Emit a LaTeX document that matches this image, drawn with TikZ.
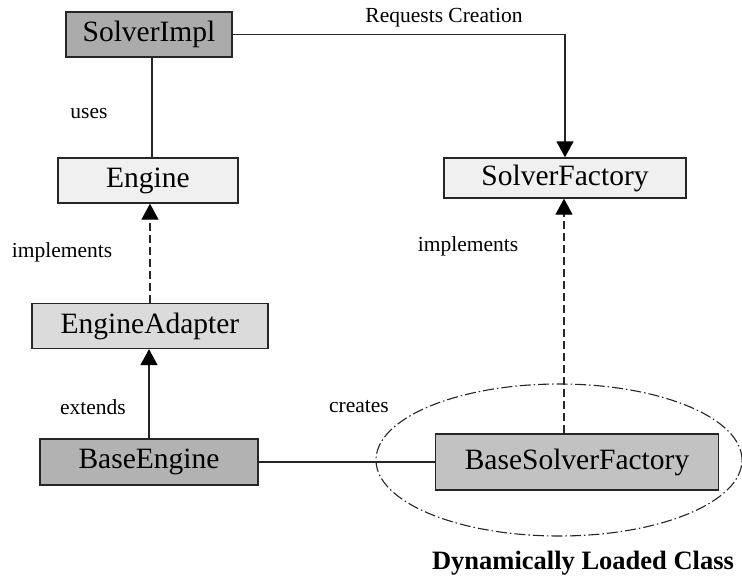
\documentclass[tikz,border=0pt]{standalone}
\usepackage{fontspec}
\setmainfont{Liberation Serif}
\usetikzlibrary{arrows.meta,calc,shapes.geometric}
\begin{document}
\begin{tikzpicture}[x=1pt,y=-1pt,
  classbox/.style={draw=black!85,line width=1.3pt,minimum height=45pt,inner sep=0pt,
    font=\fontsize{29.5}{30}\selectfont},
  lbl/.style={font=\fontsize{21.5}{22}\selectfont,inner sep=0pt},
  conn/.style={line width=1.3pt,draw=black!85},
  tip/.style={-{Triangle[length=16pt,width=17pt,color=black]}},
  dsh/.style={dash pattern=on 8pt off 4pt}]
\useasboundingbox (0,0) rectangle (742,578);

% classes
\node[classbox,fill=black!33,minimum width=166pt] (SolverImpl) at (149,34.5) {SolverImpl};
\node[classbox,fill=black!6,minimum width=180pt] (Engine) at (148,180.5) {Engine};
\node[classbox,fill=black!6,minimum width=242pt,minimum height=40pt] (SolverFactory) at (565,178) {SolverFactory};
\node[classbox,fill=black!14,minimum width=236pt] (EngineAdapter) at (150,326) {EngineAdapter};
\node[classbox,fill=black!30,minimum width=218pt,minimum height=46pt] (BaseEngine) at (149,462) {BaseEngine};
\node[classbox,fill=black!24,minimum width=283pt,minimum height=56pt] (BaseSolverFactory) at (577,462) {BaseSolverFactory};

% dynamically loaded region
\node[draw=black!85,line width=1.1pt,dash pattern=on 11pt off 3pt on 1.5pt off 3pt,
  ellipse,minimum width=366pt,minimum height=152pt,inner sep=0pt] (dyn) at (559,460) {};
\node[font=\bfseries\fontsize{26.5}{28}\selectfont,inner sep=0pt] (dynlbl) at (583,563) {Dynamically Loaded Class};

% connector end points offset from the box centres
\coordinate (usesTop) at ($(SolverImpl.south)+(3,0)$);
\coordinate (implTop) at ($(BaseSolverFactory.north)+(-13,0)$);

% connectors
\draw[conn,tip] (SolverImpl.east) -| (SolverFactory.north);
\draw[conn] (usesTop) -- (usesTop |- Engine.north);
\draw[conn,dsh,tip] (EngineAdapter.north) -- (EngineAdapter.north |- Engine.south);
\draw[conn,tip] (BaseEngine.north) -- (BaseEngine.north |- EngineAdapter.south);
\draw[conn] (BaseEngine.east) -- (BaseSolverFactory.west);
\draw[conn,dsh,tip] (implTop) -- (implTop |- SolverFactory.south);

% labels
\node[lbl] (l1) at (444,18) {Requests Creation};
\node[lbl] (l2) at (89,114) {uses};
\node[lbl] (l3) at (62,252) {implements};
\node[lbl] (l4) at (93,407) {extends};
\node[lbl] (l5) at (359,407) {creates};
\node[lbl] (l6) at (468,246) {implements};
\end{tikzpicture}
\end{document}
